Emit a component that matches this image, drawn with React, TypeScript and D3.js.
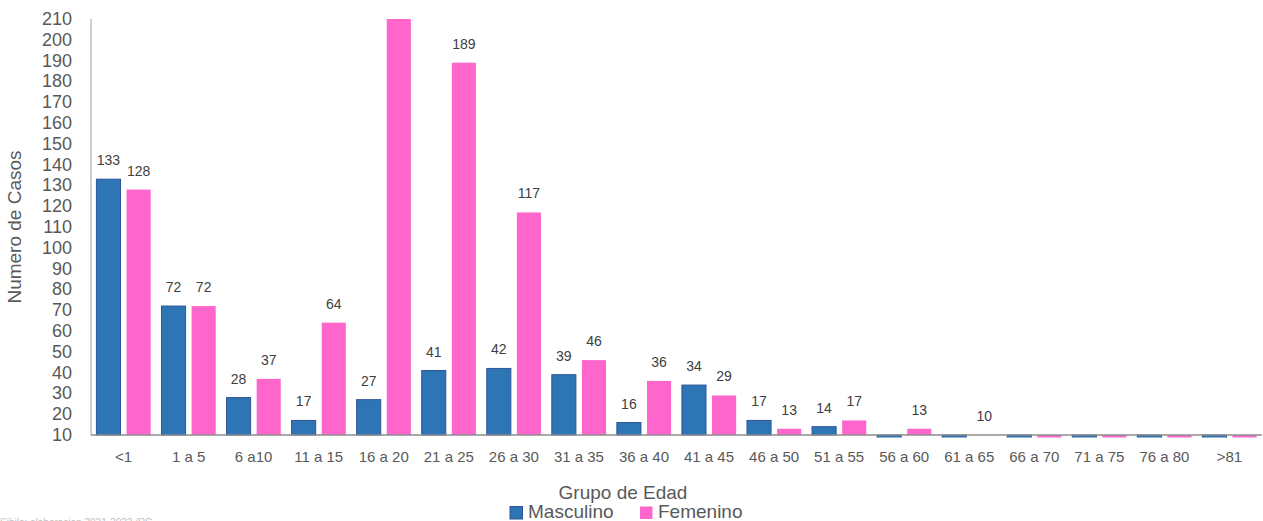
import React from "react";
import * as d3 from "d3";

const categories = ["<1", "1 a 5", "6 a10", "11 a 15", "16 a 20", "21 a 25", "26 a 30", "31 a 35", "36 a 40", "41 a 45", "46 a 50", "51 a 55", "56 a 60", "61 a 65", "66 a 70", "71 a 75", "76 a 80", ">81"];
const masculino = [133, 72, 28, 17, 27, 41, 42, 39, 16, 34, 17, 14, 6, 5, 3, 2, 2, 2];
const femenino = [128, 72, 37, 64, 232, 189, 117, 46, 36, 29, 13, 17, 13, 10, 2, 1, 1, 1];
const yTicks = [10, 20, 30, 40, 50, 60, 70, 80, 90, 100, 110, 120, 130, 140, 150, 160, 170, 180, 190, 200, 210];
const seriesNames = ["Masculino", "Femenino"];

const W = 1263, H = 521;
const left = 91, right = 1262, top = 19, bottom = 435;
const FONT = "'Liberation Sans', Arial, sans-serif";
const MALE = "#2E75B6", MALE_STROKE = "#2F5597", FEM = "#FF66CC";

export default function App() {
  const x = d3.scaleBand<string>().domain(categories).range([left, right]).padding(0);
  const y = d3.scaleLinear().domain([10, 210]).range([bottom, top]);
  const band = x.bandwidth();
  const bw = band / 2.7;
  const off = (band - 2.25 * bw) / 2;
  const series = [masculino, femenino];

  return (
    <svg width={W} height={H} style={{ position: "absolute", left: 0, top: 0, background: "#fff" }} fontFamily={FONT}>
      <defs>
        <clipPath id="plot">
          <rect x={left} y={top} width={right - left} height={bottom - top + 2.5} />
        </clipPath>
      </defs>
      {yTicks.map((t) => (
        <text key={t} x={72} y={y(t)} textAnchor="end" dominantBaseline="central" fontSize={18} fill="#595959">{t}</text>
      ))}
      <text transform={`translate(21,${(top + bottom) / 2}) rotate(-90)`} textAnchor="middle" fontSize={19} fill="#595959">Numero de Casos</text>
      <g clipPath="url(#plot)">
        {series.map((vals, si) =>
          vals.map((v, i) => {
            const bx = (x(categories[i]) as number) + off + si * 1.25 * bw;
            const y0 = y(10), y1 = y(v);
            const yt = Math.min(y0, y1), h = Math.abs(y1 - y0);
            return (
              <rect key={`${si}-${i}`} x={bx} y={yt} width={bw} height={h}
                fill={si === 0 ? MALE : FEM}
                stroke={si === 0 ? MALE_STROKE : "none"} strokeWidth={1} />
            );
          })
        )}
      </g>
      <line x1={left} x2={left} y1={top} y2={bottom} stroke="#BFBFBF" strokeWidth={1.5} />
      <line x1={left} x2={right} y1={bottom} y2={bottom} stroke="#8C8C8C" strokeWidth={1.5} />
      {series.map((vals, si) =>
        vals.map((v, i) => {
          if (v < 10 || y(v) - 14 < 12) return null;
          const bx = (x(categories[i]) as number) + off + si * 1.25 * bw + bw / 2;
          return (
            <text key={`l${si}-${i}`} x={bx} y={y(v) - 14} textAnchor="middle" fontSize={14} fill="#404040">{v}</text>
          );
        })
      )}
      {categories.map((c) => (
        <text key={c} x={(x(c) as number) + band / 2} y={462} textAnchor="middle" fontSize={15} fill="#595959">{c}</text>
      ))}
      <text x={623} y={499} textAnchor="middle" fontSize={19} fill="#595959">Grupo de Edad</text>
      <rect x={510} y={506.5} width={12.5} height={12.5} fill={MALE} stroke={MALE_STROKE} strokeWidth={1} />
      <text x={528} y={518} fontSize={19} fill="#595959">{seriesNames[0]}</text>
      <rect x={640} y={506.5} width={12.5} height={12.5} fill={FEM} />
      <text x={658} y={518} fontSize={19} fill="#595959">{seriesNames[1]}</text>
      <text x={0} y={526} fontSize={10} fill="#BFBFBF">Sibilo: elaboracion 2021-2022 /RC</text>
    </svg>
  );
}
